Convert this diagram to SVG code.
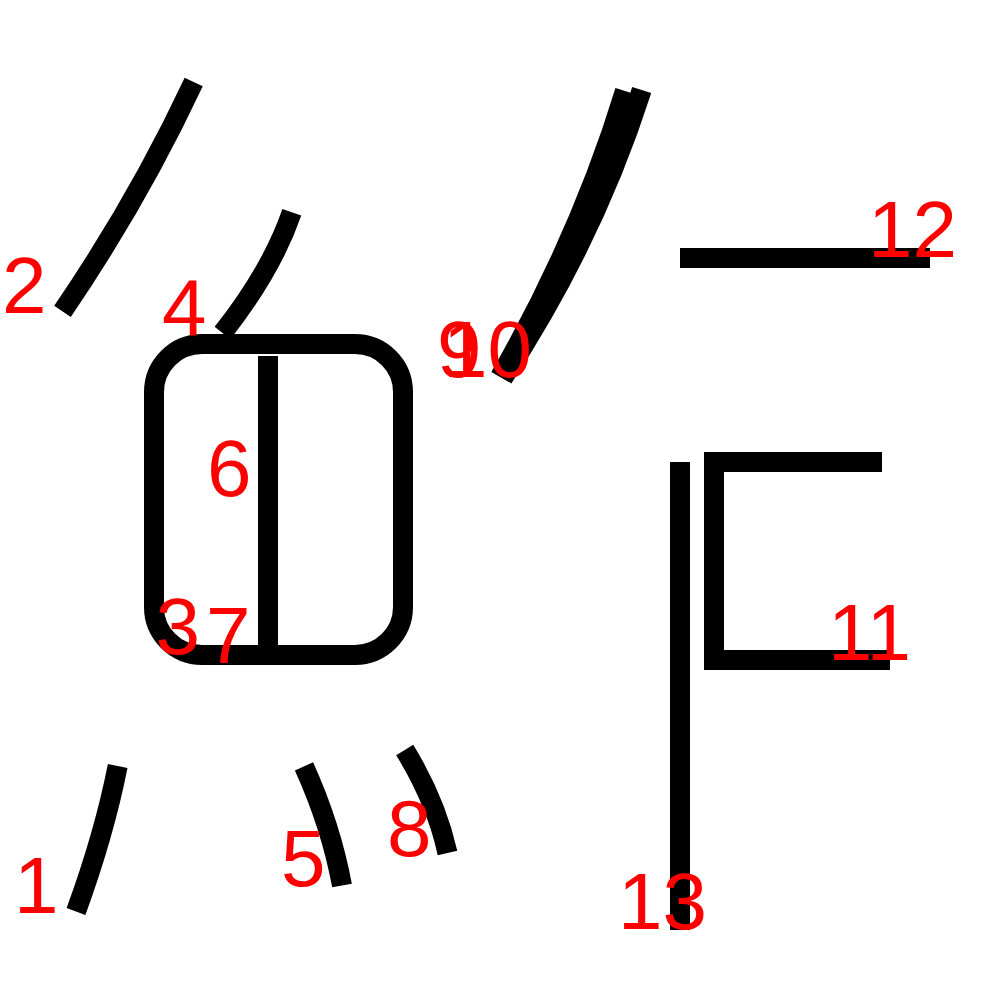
<svg xmlns="http://www.w3.org/2000/svg" width="1000" height="1000" viewBox="0 0 1000 1000">
<style>
.s{fill:none;stroke:#000;stroke-width:20;stroke-linecap:butt;stroke-linejoin:miter}
.n{fill:#f00;font-family:"Liberation Sans",Arial,sans-serif;font-size:80px}
</style>
<rect width="1000" height="1000" fill="#fff"/>
<g id="strokes">
<path id="s1" class="s" d="M117.7,766 Q104,835 76,911.5"/>
<path id="s2" class="s" d="M193.7,82 Q138.5,200 62.5,311.3"/>
<rect id="s3" class="s" x="154" y="344" width="249" height="311" rx="48" ry="48"/>
<path id="s4" class="s" d="M291.8,212.3 Q272,270 222.5,333"/>
<path id="s5" class="s" d="M304,766.3 Q331,826 342,885.5"/>
<path id="s6" class="s" d="M268,356 V655"/>
<path id="s8" class="s" d="M404.7,750 Q436,801 447.5,853"/>
<path id="s9" class="s" d="M625,91 Q581.5,234 500,377"/>
<path id="s10" class="s" d="M641.7,90 Q593.8,240 503,378"/>
<path id="s11" class="s" d="M882,462 H714 V660 H890"/>
<path id="s12" class="s" d="M680,258 H930"/>
<path id="s13" class="s" d="M680,462 V930"/>
</g>
<g id="labels">
<text class="n" x="14" y="913">1</text>
<text class="n" x="2" y="313">2</text>
<text class="n" x="155.5" y="654">3</text>
<text class="n" x="162" y="335">4</text>
<text class="n" x="281" y="886">5</text>
<text class="n" x="207" y="496">6</text>
<text class="n" x="206" y="663">7</text>
<text class="n" x="387" y="856">8</text>
<text class="n" x="437" y="377">9</text>
<text class="n" x="443" y="377">10</text>
<text class="n" x="828" y="660">11</text>
<text class="n" x="868" y="257">12</text>
<text class="n" x="618" y="929">13</text>
</g>
</svg>
